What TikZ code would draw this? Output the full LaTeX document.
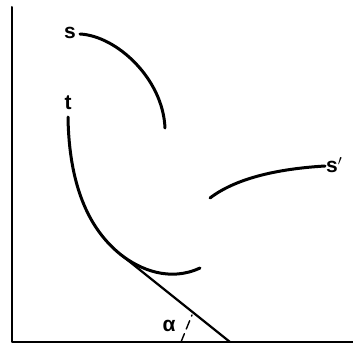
\documentclass[tikz,border=0pt]{standalone}
\usepackage{fontspec}
\setmainfont{Liberation Sans}
\usetikzlibrary{positioning}

\begin{document}
\begin{tikzpicture}[x=1pt,y=1pt,line cap=round,line join=round]
  \useasboundingbox (0,0) rectangle (353,349);
  \tikzset{lbl/.style={font=\fontsize{21}{22}\selectfont\bfseries,inner sep=0pt}}
  \coordinate (O) at (12,7);
  \coordinate (Y) at (12,342);
  \coordinate (X) at (353,7);
  \coordinate (S0) at (80,315);
  \coordinate (S1) at (165,221);
  \coordinate (T0) at (68,232);
  \coordinate (T) at (120,95);
  \coordinate (T1) at (200,81);
  \coordinate (P0) at (210,151);
  \coordinate (P1) at (325,183);
  \coordinate (B) at (230,7);
  \coordinate (D0) at (181,7);
  \coordinate (D1) at (192,34);
  \draw[line width=2pt] (Y)--(O)--(X);
  \draw[line width=3pt] (S0) .. controls (117,313) and (163,270) .. (S1);
  \draw[line width=3pt] (T0) .. controls (69,165) and (88,121) .. (T)
    .. controls (140,79) and (170,67) .. (T1);
  \draw[line width=3pt] (P0) .. controls (235,170) and (275,180) .. (P1);
  \draw[line width=2.2pt] (T)--(B);
  \draw[line width=1.4pt,dash pattern=on 9pt off 5pt] (D0)--(D1);
  \node[lbl] (s) at (70,316) {s};
  \node[lbl] (t) at (68,246) {t};
  \node[lbl,anchor=west] (sp) at (326,184) {s$'$};
  \node[lbl] (alpha) at (169,23) {α};
\end{tikzpicture}
\end{document}
